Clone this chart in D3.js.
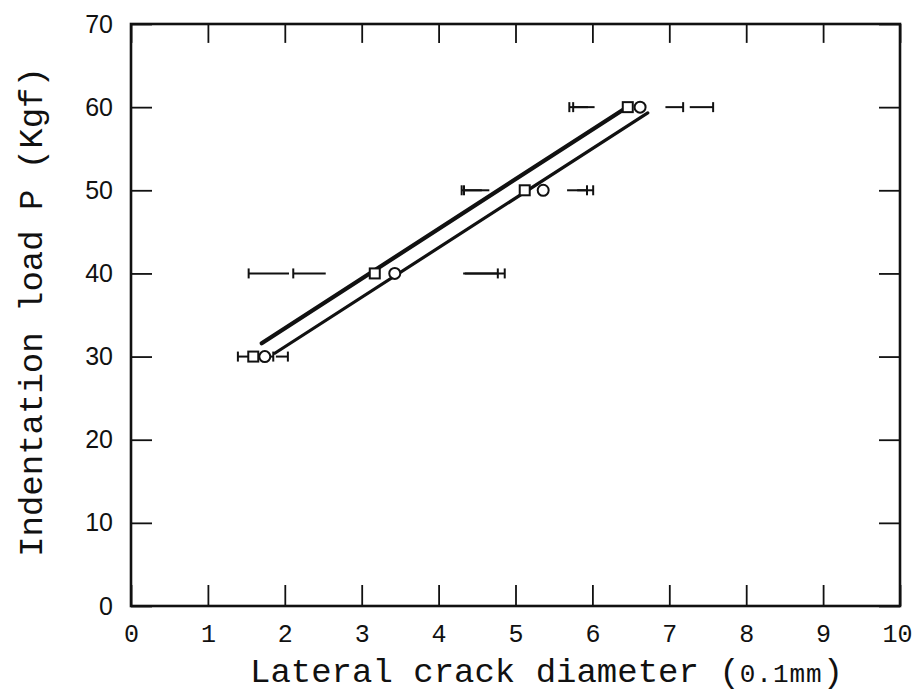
<!DOCTYPE html>
<html>
<head>
<meta charset="utf-8">
<script src="https://cdn.jsdelivr.net/npm/d3@7"></script>
<style>
  html, body { margin: 0; padding: 0; background: #fff; }
  svg { display: block; }
</style>
</head>
<body>
<svg id="chart" width="914" height="695"></svg>
<script>
// ---- data ----
const loads = [30, 40, 50, 60];                 // Indentation load P (Kgf)
const squareX = [1.59, 3.17, 5.12, 6.46];       // lateral crack diameter, square series
const circleX = [1.74, 3.43, 5.36, 6.62];       // lateral crack diameter, circle series
const squareLo = [1.39, 1.53, 4.30, 5.70];
const squareHi = [1.85, 4.86, 5.93, 7.18];
const circleLo = [1.60, 2.11, 4.33, 5.75];
const circleHi = [2.04, 4.77, 6.01, 7.57];
const squareFitX = [1.70, 6.45];
const squareFitP = [31.6, 60.0];
const circleFitX = [1.87, 6.72];
const circleFitP = [30.4, 59.3];
const xTicks = [0, 1, 2, 3, 4, 5, 6, 7, 8, 9, 10];
const yTicks = [0, 10, 20, 30, 40, 50, 60, 70];
const xTitle = "Lateral crack diameter (";
const xTitleUnit = "0.1mm";
const yTitle = "Indentation load P (Kgf)";

// ---- layout ----
const svg = d3.select("#chart");
const L = 131, R = 900, T = 24, B = 606;
const x = d3.scaleLinear().domain([0, 10]).range([L, R]);
const y = d3.scaleLinear().domain([0, 70]).range([B, T]);
const ink = "#111";
const tick = 21;

// axes
const gB = svg.append("g").attr("transform", `translate(0,${B})`)
  .call(d3.axisBottom(x).tickValues(xTicks).tickSize(-tick).tickPadding(18).tickFormat(d3.format("d")));
const gL = svg.append("g").attr("transform", `translate(${L},0)`)
  .call(d3.axisLeft(y).tickValues(yTicks).tickSize(-tick).tickPadding(18).tickFormat(d3.format("d")));
const gT = svg.append("g").attr("transform", `translate(0,${T})`)
  .call(d3.axisTop(x).tickValues(xTicks).tickSize(-tick * 0.9).tickFormat(""));
const gR = svg.append("g").attr("transform", `translate(${R},0)`)
  .call(d3.axisRight(y).tickValues(yTicks).tickSize(-tick).tickFormat(""));

[gB, gL, gT, gR].forEach(g => {
  g.select(".domain").remove();
  g.selectAll(".tick line").attr("stroke", ink).attr("stroke-width", 1.8);
});
gB.selectAll(".tick text").attr("font-family", "'Liberation Mono', 'DejaVu Sans Mono', monospace")
  .attr("font-size", 25).attr("fill", ink)
  .filter(d => d === 10).attr("text-anchor", "end").attr("x", 12);
gL.selectAll(".tick text").attr("font-family", "'Liberation Sans', Arial, sans-serif")
  .attr("font-size", 25).attr("fill", ink);

// frame
svg.append("rect").attr("x", L).attr("y", T).attr("width", R - L).attr("height", B - T)
  .attr("fill", "none").attr("stroke", ink).attr("stroke-width", 2.6);

// error bars: caps at the ends with short inward stubs
const stubFrac = 0.32, capH = 5;
function errBars(cx, lo, hi) {
  loads.forEach((p, i) => {
    const py = y(p), c = x(cx[i]);
    [lo[i], hi[i]].forEach(e => {
      const ex = x(e);
      const len = Math.max(Math.abs(c - ex) * stubFrac, 12);
      const dir = ex < c ? 1 : -1;
      svg.append("line").attr("x1", ex).attr("x2", ex + dir * len).attr("y1", py).attr("y2", py)
        .attr("stroke", ink).attr("stroke-width", 2);
      svg.append("line").attr("x1", ex).attr("x2", ex).attr("y1", py - capH).attr("y2", py + capH)
        .attr("stroke", ink).attr("stroke-width", 2);
    });
  });
}
errBars(squareX, squareLo, squareHi);
errBars(circleX, circleLo, circleHi);

// fitted lines
const line = d3.line().x(d => x(d[0])).y(d => y(d[1]));
svg.append("path").datum(d3.zip(squareFitX, squareFitP)).attr("d", line)
  .attr("fill", "none").attr("stroke", ink).attr("stroke-width", 4.2).attr("stroke-linecap", "round");
svg.append("path").datum(d3.zip(circleFitX, circleFitP)).attr("d", line)
  .attr("fill", "none").attr("stroke", ink).attr("stroke-width", 3.2).attr("stroke-linecap", "round");

// markers
const sq = 10;
svg.selectAll("rect.sq").data(loads).enter().append("rect").attr("class", "sq")
  .attr("x", (d, i) => x(squareX[i]) - sq / 2).attr("y", d => y(d) - sq / 2)
  .attr("width", sq).attr("height", sq)
  .attr("fill", "#fff").attr("stroke", ink).attr("stroke-width", 2);
svg.selectAll("circle.ci").data(loads).enter().append("circle").attr("class", "ci")
  .attr("cx", (d, i) => x(circleX[i])).attr("cy", d => y(d)).attr("r", 5.5)
  .attr("fill", "#fff").attr("stroke", ink).attr("stroke-width", 2);

// axis titles
const xt = svg.append("text").attr("x", 250).attr("y", 682).attr("text-anchor", "start")
  .attr("font-family", "'Liberation Mono', 'DejaVu Sans Mono', monospace").attr("font-size", 34).attr("fill", ink);
xt.append("tspan").text(xTitle);
xt.append("tspan").attr("font-size", 26).attr("letter-spacing", 1).text(xTitleUnit);
xt.append("tspan").text(")");

svg.append("text").attr("transform", `translate(42,${312}) rotate(-90)`).attr("text-anchor", "middle")
  .attr("font-family", "'Liberation Mono', 'DejaVu Sans Mono', monospace").attr("font-size", 34).attr("fill", ink)
  .text(yTitle);
</script>
</body>
</html>
